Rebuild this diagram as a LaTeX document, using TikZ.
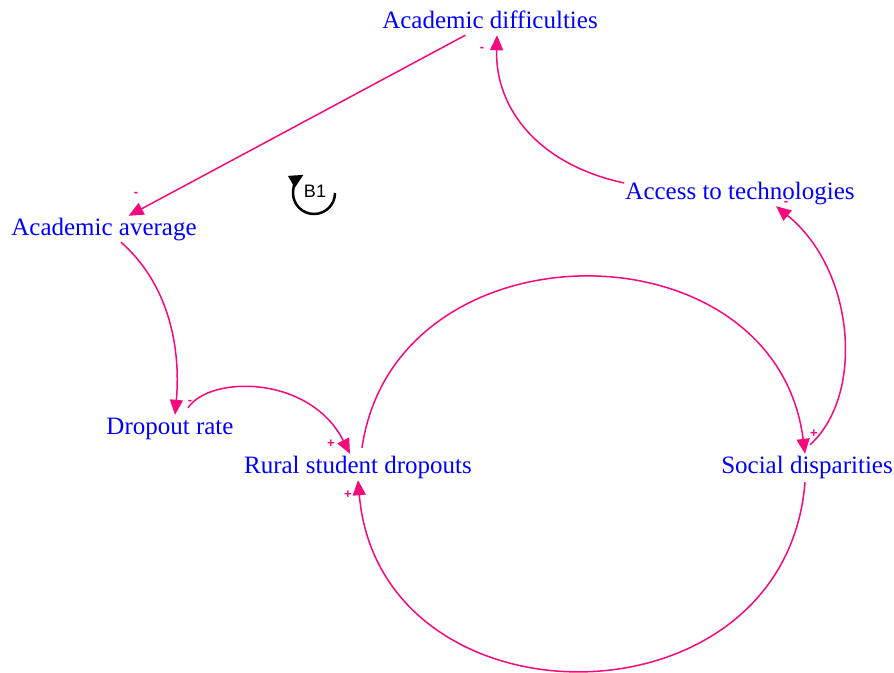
\documentclass[tikz,border=0pt]{standalone}
\usepackage{fontspec}
\setmainfont{Liberation Serif}
\newfontfamily\arialfont{Liberation Sans}
\usetikzlibrary{arrows.meta,calc}
\definecolor{linkpink}{RGB}{245,10,125}

\begin{document}
\begin{tikzpicture}[x=1pt,y=1pt,
  var/.style={text=blue,font=\fontsize{25}{30}\selectfont,anchor=base,inner sep=1pt,text height=18pt,text depth=6pt},
  link/.style={draw=linkpink,line width=1.5pt,-{Triangle[length=15pt,width=13pt]}},
  sign/.style={text=linkpink,font=\arialfont\bfseries\fontsize{13}{14}\selectfont,inner sep=0pt}]
\useasboundingbox (0,0) rectangle (894,-672);
% variables
\node[var] (diff) at (490,-28) {Academic difficulties};
\node[var] (avg) at (104,-235) {Academic average};
\node[var] (acc) at (740,-199) {Access to technologies};
\node[var] (drop) at (170,-434) {Dropout rate};
\node[var] (rural) at (358,-473) {Rural student dropouts};
\node[var] (social) at (807,-473) {Social disparities};
% links
\draw[link] (diff) -- (avg);
\draw[link] ([yshift=10pt]acc.west) .. controls (540,-165) and (495,-110) .. ([xshift=7pt]diff.south);
\draw[link] ([xshift=17pt]avg.south) .. controls (175,-290) and (180,-360) .. ([xshift=5pt]drop.north);
\draw[link] ([xshift=18pt,yshift=7pt]drop.north) .. controls (210,-375) and (310,-375) .. ([xshift=-8pt]rural.north);
\draw[link] ([xshift=4pt,yshift=6pt]rural.north) .. controls (395,-220) and (775,-220) .. ([xshift=-2pt]social.north);
\draw[link] ([xshift=3pt,yshift=9pt]social.north) .. controls (865,-395) and (855,-270) .. ([xshift=36pt]acc.south);
\draw[link] ([xshift=-2pt,yshift=-2pt]social.south) .. controls (785,-733) and (380,-733) .. (rural.south);
% polarities
\node[sign] (s1) at (136,-194) {-};
\node[sign] (s2) at (482,-49) {-};
\node[sign] (s3) at (190,-402) {-};
\node[sign] (s4) at (331,-444) {+};
\node[sign] (s5) at (814,-434) {+};
\node[sign] (s6) at (786,-203) {-};
\node[sign] (s7) at (348,-495) {+};
% loop marker
\coordinate (loopc) at (314,-193);
\draw[line width=2.5pt,-{Triangle[length=14pt,width=13pt]}] ($(loopc)+(0:21)$) arc[start angle=0,end angle=-240,radius=21];
\node[font=\arialfont\fontsize{18}{20}\selectfont,inner sep=0pt] (b1) at (315,-191) {B1};
\end{tikzpicture}
\end{document}
